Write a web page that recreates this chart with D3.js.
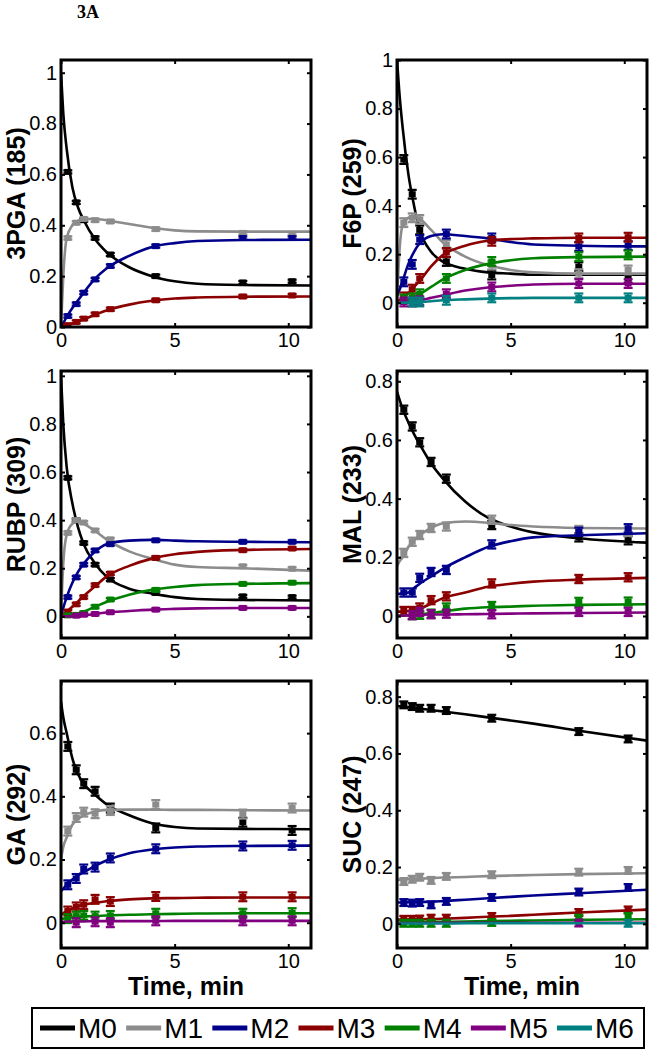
<!DOCTYPE html>
<html><head><meta charset="utf-8">
<script src="https://cdn.jsdelivr.net/npm/d3@7"></script>
<style>body{margin:0;background:#fff} svg{display:block}</style>
</head><body><svg id="c" width="649" height="1050"></svg>
<script>
// ---------------- DATA ----------------
const seriesNames = ["M0", "M1", "M2", "M3", "M4", "M5", "M6"];
const seriesColors = ["#000000", "#8c8c8c", "#00008b", "#8b0000", "#008000", "#800080", "#008080"];
const xTicks = [0, 5, 10];
const fitT  = [0, 0.1, 0.25, 0.5, 0.75, 1, 1.5, 2, 3, 4, 5, 6, 8, 11];
const sampT = [0.3, 0.67, 1.0, 1.5, 2.17, 4.17, 8.0, 10.17];

const panelLabels = ["3PGA (185)", "F6P (259)", "RUBP (309)", "MAL (233)", "GA (292)", "SUC (247)"];
const yDomains = [[0, 1.05], [-0.1, 1.0], [-0.09, 1.02], [-0.075, 0.835], [-0.08, 0.765], [-0.085, 0.855]];
const yTicks = [[0, 0.2, 0.4, 0.6, 0.8, 1], [0, 0.2, 0.4, 0.6, 0.8, 1], [0, 0.2, 0.4, 0.6, 0.8, 1],
                [0, 0.2, 0.4, 0.6, 0.8], [0, 0.2, 0.4, 0.6], [0, 0.2, 0.4, 0.6, 0.8]];

// 3PGA
const pgaFit = [
  [1.0, 0.84, 0.70, 0.55, 0.47, 0.42, 0.345, 0.295, 0.235, 0.2, 0.18, 0.17, 0.165, 0.163],
  [0, 0.2, 0.35, 0.4, 0.418, 0.425, 0.425, 0.42, 0.405, 0.39, 0.38, 0.376, 0.375, 0.375],
  [0, 0.015, 0.04, 0.075, 0.105, 0.135, 0.19, 0.23, 0.28, 0.315, 0.33, 0.338, 0.342, 0.343],
  [0, 0.002, 0.006, 0.014, 0.022, 0.03, 0.048, 0.065, 0.088, 0.103, 0.112, 0.116, 0.119, 0.12]];
const pgaPts = [
  [0.61, 0.49, 0.42, 0.35, 0.285, 0.20, 0.175, 0.18],
  [0.35, 0.41, 0.425, 0.42, 0.415, 0.385, 0.37, 0.366],
  [0.043, 0.09, 0.135, 0.187, 0.24, 0.318, 0.35, 0.35],
  [0.007, 0.02, 0.033, 0.05, 0.07, 0.105, 0.12, 0.124]];
const pgaErr = [0.006, 0.006, 0.006, 0.006];

// F6P
const f6pFit = [
  [1.0, 0.87, 0.72, 0.53, 0.40, 0.30, 0.21, 0.17, 0.14, 0.125, 0.12, 0.115, 0.115, 0.115],
  [0, 0.2, 0.32, 0.35, 0.355, 0.345, 0.3, 0.25, 0.19, 0.155, 0.135, 0.125, 0.12, 0.12],
  [0.03, 0.05, 0.09, 0.16, 0.21, 0.245, 0.275, 0.282, 0.275, 0.265, 0.25, 0.24, 0.235, 0.232],
  [0, 0.01, 0.02, 0.04, 0.065, 0.09, 0.15, 0.195, 0.235, 0.255, 0.262, 0.265, 0.268, 0.268],
  [0, 0.001, 0.003, 0.01, 0.02, 0.035, 0.065, 0.095, 0.135, 0.16, 0.175, 0.183, 0.188, 0.19],
  [0, 0, 0.001, 0.003, 0.006, 0.01, 0.02, 0.03, 0.05, 0.063, 0.07, 0.075, 0.078, 0.078],
  [0, 0, 0, 0.001, 0.002, 0.003, 0.006, 0.01, 0.014, 0.017, 0.019, 0.02, 0.02, 0.02]];
const f6pPts = [
  [0.59, 0.447, 0.30, null, 0.17, 0.114, 0.149, 0.1],
  [0.33, 0.35, 0.343, null, 0.24, 0.155, 0.12, 0.135],
  [0.086, 0.158, 0.26, null, 0.283, 0.267, 0.232, 0.235],
  [0.024, 0.056, 0.1, null, 0.207, 0.253, 0.267, 0.27],
  [0.015, 0.02, 0.037, null, 0.1, 0.17, 0.19, 0.197],
  [0.003, 0.003, 0.008, null, 0.037, 0.065, 0.079, 0.079],
  [null, 0.003, 0.003, null, 0.01, 0.02, 0.02, 0.02]];
const f6pErr = [0.018, 0.018, 0.018, 0.018, 0.018, 0.018, 0.018];

// RUBP
const rubpFit = [
  [1.0, 0.8, 0.62, 0.47, 0.37, 0.3, 0.22, 0.165, 0.115, 0.095, 0.08, 0.072, 0.068, 0.066],
  [0, 0.22, 0.34, 0.385, 0.395, 0.385, 0.355, 0.32, 0.27, 0.24, 0.215, 0.205, 0.2, 0.19],
  [0, 0.035, 0.08, 0.14, 0.185, 0.22, 0.27, 0.3, 0.315, 0.318, 0.315, 0.312, 0.31, 0.308],
  [0, 0.008, 0.02, 0.04, 0.062, 0.085, 0.125, 0.165, 0.21, 0.24, 0.258, 0.268, 0.276, 0.28],
  [0, 0, 0.001, 0.005, 0.012, 0.02, 0.04, 0.06, 0.09, 0.11, 0.122, 0.13, 0.135, 0.138],
  [0, 0, 0, 0.001, 0.003, 0.005, 0.01, 0.016, 0.022, 0.028, 0.031, 0.033, 0.035, 0.035]];
const rubpPts = [
  [0.576, 0.4, 0.305, 0.215, 0.153, 0.097, 0.083, 0.08],
  [0.347, 0.4, 0.39, 0.357, 0.32, 0.243, 0.208, 0.198],
  [0.08, 0.162, 0.215, 0.274, 0.3, 0.316, 0.31, 0.31],
  [0.02, 0.05, 0.08, 0.13, 0.178, 0.243, 0.275, 0.282],
  [0.004, 0.006, 0.014, 0.04, 0.07, 0.11, 0.135, 0.14],
  [null, 0.003, 0.007, 0.01, 0.017, 0.028, 0.035, 0.035]];
const rubpErr = [0.006, 0.006, 0.006, 0.006, 0.006, 0.006];

// MAL
const malFit = [
  [0.765, 0.74, 0.705, 0.66, 0.62, 0.585, 0.52, 0.47, 0.39, 0.335, 0.305, 0.285, 0.265, 0.25],
  [0.17, 0.185, 0.2, 0.235, 0.258, 0.275, 0.3, 0.315, 0.322, 0.318, 0.31, 0.305, 0.3, 0.298],
  [0.075, 0.076, 0.078, 0.08, 0.095, 0.11, 0.135, 0.16, 0.2, 0.235, 0.255, 0.268, 0.275, 0.282],
  [0.015, 0.015, 0.016, 0.017, 0.02, 0.025, 0.042, 0.06, 0.08, 0.1, 0.11, 0.117, 0.124, 0.13],
  [0, 0, 0.001, 0.002, 0.004, 0.005, 0.01, 0.015, 0.025, 0.03, 0.032, 0.035, 0.038, 0.04],
  [0, 0, 0.001, 0.002, 0.003, 0.004, 0.005, 0.005, 0.006, 0.007, 0.008, 0.009, 0.01, 0.012]];
const malPts = [
  [0.703, 0.646, 0.592, 0.525, 0.468, 0.31, 0.268, 0.258],
  [0.215, 0.253, 0.276, 0.3, 0.305, 0.328, 0.293, 0.287],
  [0.08, 0.08, 0.13, 0.15, 0.157, 0.244, 0.287, 0.299],
  [0.017, 0.017, 0.029, 0.054, 0.067, 0.111, 0.126, 0.132],
  [null, 0.003, 0.004, 0.008, 0.029, 0.034, 0.048, 0.049],
  [null, 0.003, 0.014, 0.006, 0.008, 0.006, 0.014, 0.014]];
const malErr = [0.014, 0.014, 0.014, 0.014, 0.014, 0.014];

// GA
const gaFit = [
  [0.7, 0.65, 0.6, 0.52, 0.47, 0.44, 0.405, 0.375, 0.34, 0.315, 0.303, 0.298, 0.297, 0.296],
  [0.2, 0.24, 0.27, 0.31, 0.328, 0.34, 0.352, 0.357, 0.358, 0.358, 0.357, 0.357, 0.356, 0.355],
  [0.1, 0.108, 0.12, 0.137, 0.15, 0.16, 0.18, 0.197, 0.22, 0.232, 0.238, 0.241, 0.243, 0.244],
  [0.025, 0.03, 0.036, 0.045, 0.052, 0.057, 0.063, 0.068, 0.074, 0.077, 0.078, 0.079, 0.08, 0.08],
  [0.012, 0.013, 0.015, 0.017, 0.019, 0.02, 0.021, 0.023, 0.025, 0.027, 0.028, 0.029, 0.03, 0.03],
  [0.003, 0.003, 0.003, 0.004, 0.004, 0.004, 0.005, 0.005, 0.005, 0.005, 0.006, 0.006, 0.006, 0.006]];
const gaPts = [
  [0.558, 0.484, 0.44, 0.416, 0.363, 0.3, 0.318, 0.292],
  [0.29, 0.333, 0.35, 0.345, 0.355, 0.374, 0.344, 0.363],
  [0.12, 0.14, 0.17, 0.176, 0.205, 0.234, 0.243, 0.245],
  [0.037, 0.05, 0.057, 0.074, 0.067, 0.083, 0.082, 0.082],
  [0.013, 0.021, 0.023, 0.021, 0.023, 0.03, 0.03, 0.032],
  [null, 0.0, null, 0.003, 0.0, 0.006, 0.006, 0.006]];
const gaErr = [0.014, 0.014, 0.014, 0.014, 0.014, 0.014];

// SUC
const sucFit = [
  [0.767, 0.766, 0.765, 0.763, 0.761, 0.758, 0.753, 0.748, 0.738, 0.727, 0.716, 0.705, 0.68, 0.645],
  [0.155, 0.155, 0.156, 0.157, 0.158, 0.159, 0.161, 0.163, 0.165, 0.168, 0.17, 0.172, 0.175, 0.178],
  [0.075, 0.075, 0.075, 0.076, 0.076, 0.077, 0.078, 0.08, 0.085, 0.09, 0.095, 0.1, 0.108, 0.12],
  [0.015, 0.015, 0.015, 0.016, 0.016, 0.016, 0.017, 0.018, 0.021, 0.025, 0.028, 0.032, 0.04, 0.05],
  [0.005, 0.005, 0.005, 0.006, 0.006, 0.006, 0.007, 0.007, 0.008, 0.01, 0.011, 0.012, 0.014, 0.016],
  [0.003, 0.003, 0.003, 0.003, 0.003, 0.003, 0.003, 0.004, 0.004, 0.004, 0.004, 0.004, 0.004, 0.004],
  [0.001, 0.001, 0.001, 0.001, 0.001, 0.001, 0.001, 0.001, 0.002, 0.002, 0.002, 0.002, 0.002, 0.002]];
const sucPts = [
  [0.771, 0.765, 0.759, 0.759, 0.751, 0.724, 0.677, 0.651],
  [0.149, 0.157, 0.164, 0.153, 0.167, 0.173, 0.182, 0.188],
  [0.075, 0.073, 0.075, 0.067, 0.079, 0.093, 0.112, 0.128],
  [0.016, 0.016, 0.017, 0.02, 0.02, 0.026, 0.04, 0.049],
  [0.002, 0.002, 0.002, 0.002, 0.002, 0.005, 0.02, 0.026],
  [null, null, null, null, null, null, 0.003, null],
  [null, null, null, null, null, null, null, 0.002]];
const sucErr = [0.012, 0.012, 0.012, 0.012, 0.012, 0.012, 0.012];

const panelFits = [pgaFit, f6pFit, rubpFit, malFit, gaFit, sucFit];
const panelPts  = [pgaPts, f6pPts, rubpPts, malPts, gaPts, sucPts];
const panelErr  = [pgaErr, f6pErr, rubpErr, malErr, gaErr, sucErr];

// ---------------- LAYOUT ----------------
const colLeft = [61, 397], rowTop = [60, 371, 681];
const W = 250, H = 267;
const FONT = "Liberation Sans, Arial, Helvetica, sans-serif";

const svg = d3.select("#c");
svg.append("rect").attr("width", 649).attr("height", 1050).attr("fill", "#fff");
svg.append("text").attr("x", 77).attr("y", 18)
  .attr("font-family", "Liberation Serif, Times New Roman, serif").attr("font-weight", "bold")
  .attr("font-size", 18).text("3A");

const defs = svg.append("defs");
defs.append("clipPath").attr("id", "plotclip").append("rect")
  .attr("x", 0).attr("y", 0).attr("width", W).attr("height", H);

panelLabels.forEach((lab, i) => {
  const col = i % 2, row = Math.floor(i / 2);
  const g = svg.append("g").attr("transform", `translate(${colLeft[col]},${rowTop[row]})`);
  const x = d3.scaleLinear().domain([0, 11]).range([0, W]);
  const y = d3.scaleLinear().domain(yDomains[i]).range([H, 0]);

  const plot = g.append("g").attr("clip-path", "url(#plotclip)");
  const line = d3.line().x((d, k) => x(fitT[k])).y(d => y(d)).curve(d3.curveMonotoneX);

  panelFits[i].forEach((vals, s) => {
    const c = seriesColors[s];
    plot.append("path").attr("d", line(vals)).attr("fill", "none")
      .attr("stroke", c).attr("stroke-width", 2.6).attr("stroke-linejoin", "round");
    const e = panelErr[i][s];
    const pts = panelPts[i][s].map((v, k) => ({ t: sampT[k], v })).filter(d => d.v != null);
    const pg = plot.append("g").attr("stroke", c).attr("fill", c);
    pts.forEach(d => {
      const cx = x(d.t), y1 = y(d.v - e), y2 = y(d.v + e), cy = y(d.v);
      pg.append("line").attr("x1", cx).attr("x2", cx).attr("y1", y1).attr("y2", y2).attr("stroke-width", 2);
      pg.append("line").attr("x1", cx - 4.5).attr("x2", cx + 4.5).attr("y1", y1).attr("y2", y1).attr("stroke-width", 2.2);
      pg.append("line").attr("x1", cx - 4.5).attr("x2", cx + 4.5).attr("y1", y2).attr("y2", y2).attr("stroke-width", 2.2);
      pg.append("rect").attr("x", cx - 3.5).attr("y", cy - 3).attr("width", 7).attr("height", 6).attr("stroke", "none");
    });
  });

  // axes
  const styleAxis = sel => {
    sel.select(".domain").remove();
    sel.selectAll(".tick line").attr("stroke", "#000").attr("stroke-width", 2);
    sel.selectAll(".tick text").attr("font-family", FONT).attr("font-size", 20).attr("fill", "#000");
  };
  g.append("g").attr("transform", `translate(0,${H})`)
    .call(d3.axisBottom(x).tickValues(xTicks).tickSizeInner(-4).tickSizeOuter(0).tickPadding(6).tickFormat(d3.format("d")))
    .call(styleAxis);
  g.append("g")
    .call(d3.axisTop(x).tickValues(xTicks).tickSizeInner(-4).tickSizeOuter(0).tickFormat(""))
    .call(styleAxis);
  g.append("g")
    .call(d3.axisLeft(y).tickValues(yTicks[i]).tickSizeInner(-4).tickSizeOuter(0).tickPadding(4).tickFormat(d3.format("")))
    .call(styleAxis);
  g.append("g").attr("transform", `translate(${W},0)`)
    .call(d3.axisRight(y).tickValues(yTicks[i]).tickSizeInner(-4).tickSizeOuter(0).tickFormat(""))
    .call(styleAxis);

  g.append("rect").attr("x", 0).attr("y", 0).attr("width", W).attr("height", H)
    .attr("fill", "none").attr("stroke", "#000").attr("stroke-width", 3);

  // y label
  g.append("text").attr("transform", `translate(-45,${H / 2}) rotate(-90)`)
    .attr("text-anchor", "middle").attr("dominant-baseline", "central")
    .attr("font-family", FONT).attr("font-weight", "bold").attr("font-size", 25)
    .text(lab);

  if (row === 2) {
    g.append("text").attr("x", W / 2).attr("y", H + 47)
      .attr("text-anchor", "middle").attr("font-family", FONT).attr("font-weight", "bold")
      .attr("font-size", 25).text("Time, min");
  }
});

// legend
const lg = svg.append("g");
lg.append("rect").attr("x", 32).attr("y", 1008).attr("width", 612).attr("height", 40)
  .attr("fill", "#fff").attr("stroke", "#000").attr("stroke-width", 2);
const lx = d3.scalePoint().domain(seriesNames).range([40, 557]);
seriesNames.forEach((n, s) => {
  const x0 = lx(n);
  lg.append("line").attr("x1", x0).attr("x2", x0 + 35).attr("y1", 1028).attr("y2", 1028)
    .attr("stroke", seriesColors[s]).attr("stroke-width", 5);
  lg.append("text").attr("x", x0 + 38).attr("y", 1028).attr("dominant-baseline", "central")
    .attr("font-family", FONT).attr("font-size", 28).text(n);
});
</script></body></html>
